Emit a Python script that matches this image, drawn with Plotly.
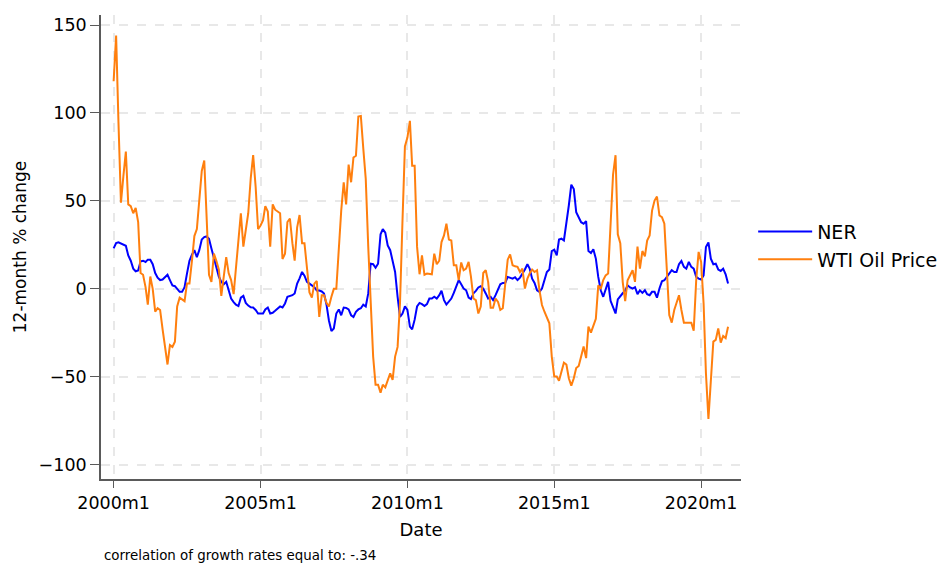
import pandas as pd
import plotly.graph_objects as go

# Monthly dates 2000m1 .. 2020m12
dates = pd.date_range("2000-01-01", periods=252, freq="MS")

ner = [
    23, 26, 26.5, 25.7, 25, 24.5, 19, 16, 11.5, 10, 10.5, 15.7,
    16, 15.3, 16.6, 16.6, 14, 9, 6.4, 5, 5.3, 6.8, 8, 5,
    2, 1.5, 0, -1.7, -1.7, 1, 8.7, 16, 19.4, 22, 18, 22,
    28, 29.4, 29.8, 28.5, 23, 17, 12, 7, 4, 2.6, 4, -1.5,
    -5.5, -7.5, -9, -9.8, -5, -4, -8, -9.5, -10.5, -10.6, -12, -14,
    -14, -14, -11.7, -10.6, -14, -13.6, -12.5, -11, -10, -10.6, -8.3, -4.5,
    -4, -3.6, -2.6, 3, 6, 9.6, 7.5, 4, 3, 2, 1, -1,
    -1, -1.5, -2.6, -9, -18, -24, -22.5, -14, -11.7, -15, -10.6, -10.8,
    -11.7, -15, -16, -13, -11.7, -11, -9, -10, -2.6, 14.3, 14, 12,
    14.3, 31, 34, 32, 24.7, 22, 16, 9.6, -4.5, -16, -14, -10,
    -12, -21.5, -23, -17.5, -10, -8, -8.7, -9.8, -8.7, -5.5, -5.5, -4.5,
    -5.5, -3.6, -1.1, -6.4, -8.9, -7.4, -5.5, -2.3, 1.5, 5, 2.6, 0.2,
    -0.8, -5, -5.8, -2.6, -1.1, 0.8, 1.5, 0.2, -2.6, -5.5, -4.5, -6.4,
    -3.6, 0.2, 2.6, 3.4, 3.4, 6.8, 6.4, 5.8, 6.6, 5, 6.4, 8.5,
    11, 14, 11.5, 5.8, 3.4, -0.8, -1.7, 0.2, 4.9, 9.6, 11, 21.5,
    22.3, 19, 28, 28.5, 27.5, 36.6, 47.4, 59.2, 56.8, 43.6, 40.8, 37.9,
    37, 38.5, 21.5, 20.4, 22.5, 17.2, 6.8, -0.8, -4.5, -0.8, 4, -6.8,
    -10.2, -14, -6, -4, -2.5, -1, 2, 0.8, 0.2, 1, -3, -0.8,
    -2.3, -0.8, -3, -3.6, -1.7, -1.7, -5, 0.2, 4.3, 4.9, 6.8, 8.3,
    10.6, 9.6, 9.6, 14, 15.8, 12.5, 11.5, 15.3, 12.5, 11.5, 6.8, 5.8,
    5.3, 7.7, 23.8, 26.4, 17.2, 14, 14.3, 11, 10.2, 11.5, 8.3, 3,
]

wti = [
    118, 144, 95, 49, 64, 78, 48, 47, 43, 46, 38, 9,
    8, 1, -9, 7, 0, -13, -11, -12, -23, -33, -43, -32,
    -33, -30, -10, -5, -6, -7, 3, 3, 16, 30, 34, 50,
    67, 73, 40, 8, 4, 20, 16, 11, -4, 7, 18, 9,
    5, -3, 12, 31, 43, 24, 33, 43, 63, 76, 58, 34,
    36, 39, 47, 44, 24, 48, 45, 44, 43, 17, 20, 38,
    40, 26, 16, 35, 42, 26, 26, 12, -2, -5, 3, 4.5,
    -16, -3.6, -3.6, -8, -10, -4.5, 0, 0, 24.7, 44.5, 60.6, 48,
    70.6, 60.6, 74.7, 75.7, 98, 98.3, 80, 62.5, 24, -8, -38.5, -54.5,
    -54.5, -59, -54.5, -56, -52.6, -48, -51.7, -38.5, -33, -8, 39, 81,
    86, 95.5, 70, 70, 24, 8.3, 19, 8, 8.7, 8.3, 8.3, 20,
    14, 16, 26.6, 30.4, 37, 28, 27.5, 13.4, 13.4, 5, 15, 10.6,
    11.5, 15.3, 7, -5.5, -6.4, -14, -10, 9, 10.6, 4, -10.8, -10.8,
    -5.5, -7.4, -12, -11, 1, 16.6, 19.6, 13.4, 12.8, 12.5, 9.6, 11.5,
    0.2, 5.8, 8.7, 11, 9.6, 10.6, -0.8, -9.2, -13, -16, -19.6, -38.5,
    -49.8, -49.8, -52.3, -47, -42, -43, -50.8, -55, -50.8, -45, -43.8, -38.5,
    -32.8, -39.4, -21.5, -24.9, -21.5, -17, 2, 0, 5, 7.7, 8.7, 35,
    65, 76, 31, 26, 4, -7, 4.9, 7.7, 10.6, 4, 24, 11.5,
    21.5, 18.5, 27.5, 30.4, 44.5, 50.2, 52.5, 41.7, 40.8, 37, 6.8, -14.9,
    -19.2, -12, -8, -3.6, -12, -19.2, -19.2, -19.2, -19.2, -23.8, 4.9, 21,
    15.3, -8.3, -48, -74, -51.7, -30, -29, -22.5, -30.6, -26.8, -28, -21.5,
]

x_tick_vals = ["2000-01-01", "2005-01-01", "2010-01-01", "2015-01-01", "2020-01-01"]
x_tick_text = ["2000m1", "2005m1", "2010m1", "2015m1", "2020m1"]
y_tick_vals = [-100, -50, 0, 50, 100, 150]
note_text = "correlation of growth rates equal to: -.34"

FONT = "DejaVu Sans, Verdana, sans-serif"
AXIS_COLOR = "#5a5a5a"
GRID_COLOR = "#e8e8e8"

fig = go.Figure()
fig.add_trace(go.Scatter(x=dates, y=ner, mode="lines", name="NER",
                         line=dict(color="#0000ff", width=2)))
fig.add_trace(go.Scatter(x=dates, y=wti, mode="lines", name="WTI Oil Price",
                         line=dict(color="#ff7f0e", width=2)))

fig.update_layout(
    width=941, height=565,
    margin=dict(l=101, r=200, t=15, b=86, autoexpand=False),
    paper_bgcolor="white", plot_bgcolor="white",
    font=dict(family=FONT, size=17.5, color="black"),
    showlegend=True,
    legend=dict(x=1.019, y=0.503, xanchor="left", yanchor="middle",
                font=dict(size=19), itemwidth=54, tracegroupgap=0,
                bgcolor="rgba(0,0,0,0)"),
    annotations=[dict(text=note_text, xref="paper", yref="paper",
                      x=0.002, y=-0.165, xanchor="left", yanchor="middle",
                      showarrow=False, font=dict(size=13.4))],
)

fig.update_xaxes(
    range=["1999-07-28", "2021-05-11"],
    tickvals=x_tick_vals, ticktext=x_tick_text,
    ticks="outside", ticklen=7, tickcolor=AXIS_COLOR, tickwidth=1.2,
    showline=True, linecolor=AXIS_COLOR, linewidth=1.6,
    showgrid=True, gridcolor=GRID_COLOR, gridwidth=1.5, griddash="dash",
    zeroline=False, automargin=False,
    title=dict(text="Date", font=dict(size=18), standoff=12),
    tickfont=dict(size=17.5),
)
fig.update_yaxes(
    range=[-108.1, 155.7],
    tickvals=y_tick_vals,
    ticks="outside", ticklen=9, tickcolor=AXIS_COLOR, tickwidth=1.2,
    showline=True, linecolor=AXIS_COLOR, linewidth=1.6,
    showgrid=True, gridcolor=GRID_COLOR, gridwidth=1.5, griddash="dash",
    zeroline=False, automargin=False,
    title=dict(text="12-month % change", font=dict(size=17), standoff=8),
    tickfont=dict(size=17.5),
)

fig.write_html(
    "out.html",
    config={"displayModeBar": False},
    post_script="document.body.style.margin='0';document.body.style.padding='0';",
)
